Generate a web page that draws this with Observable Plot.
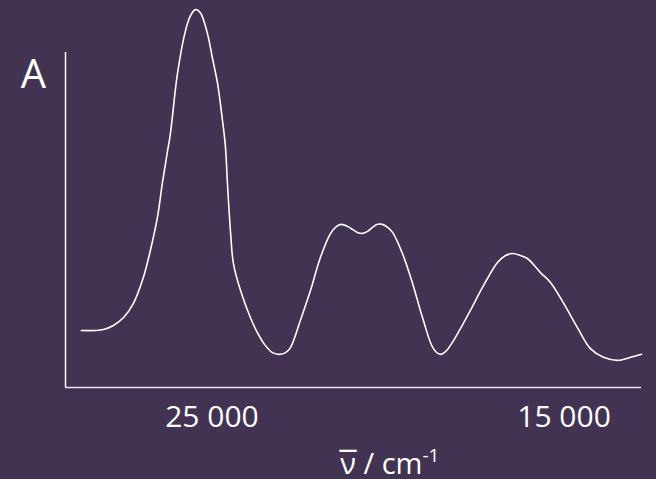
<!DOCTYPE html>
<html>
<head>
<meta charset="utf-8">
<script src="https://cdn.jsdelivr.net/npm/d3@7"></script>
<script src="https://cdn.jsdelivr.net/npm/@observablehq/plot@0.6"></script>
<style>
  html, body { margin: 0; padding: 0; background: #433353; }
  svg { display: block; }
</style>
</head>
<body>
<div id="chart"></div>
<script>
// Wavenumber (cm^-1) and absorbance (arbitrary units)
const wavenumber = [28710, 28310, 28080, 27800, 27510, 27230, 26950, 26750, 26550, 26410,
  26260, 26180, 25980, 25750, 25610, 25470, 25330, 25130, 24990, 24840,
  24730, 24620, 24560, 24470, 24390, 24190, 23910, 23710, 23480, 23280,
  23080, 22910, 22770, 22490, 22200, 21920, 21630, 21460, 21320, 21150,
  21010, 20870, 20720, 20580, 20440, 20300, 20160, 20010, 19870, 19590,
  19300, 19020, 18710, 18510, 18340, 18140, 17910, 17660, 17290, 16890,
  16660, 16460, 16240, 16040, 15670, 15380, 15010, 14620, 14250, 13880,
  13480, 13110, 12800];
const absorbance = [0.170, 0.170, 0.173, 0.185, 0.209, 0.251, 0.328, 0.409, 0.507, 0.609,
  0.707, 0.758, 0.937, 1.066, 1.110, 1.128, 1.119, 1.057, 0.985, 0.907,
  0.821, 0.722, 0.609, 0.460, 0.370, 0.290, 0.209, 0.164, 0.125, 0.104,
  0.099, 0.104, 0.119, 0.200, 0.290, 0.388, 0.460, 0.481, 0.487, 0.481,
  0.472, 0.463, 0.460, 0.466, 0.478, 0.487, 0.487, 0.478, 0.463, 0.400,
  0.310, 0.209, 0.116, 0.099, 0.110, 0.140, 0.182, 0.230, 0.304, 0.373,
  0.394, 0.400, 0.394, 0.385, 0.343, 0.313, 0.251, 0.179, 0.116, 0.090,
  0.081, 0.090, 0.099];
const tickValues = [25000, 15000];
const tickLabels = ["25 000", "15 000"];
const xDomain = [29160, 12800];
const yDomain = [0, 1.1552];
const yAxisTop = 1.0;
const yLabel = "A";
const xLabelSymbol = "ν";
const xLabelBar = "¯";
const xLabelUnit = " / cm";
const xLabelExp = "-1";

const data = wavenumber.map((w, i) => ({w, a: absorbance[i]}));
const fg = "#ffffff";
const font = "'Open Sans', 'Noto Sans', sans-serif";
const titleText = xLabelSymbol + xLabelUnit + xLabelExp;

const chart = Plot.plot({
  width: 656,
  height: 479,
  marginLeft: 65,
  marginRight: 15,
  marginTop: 0,
  marginBottom: 92,
  x: {domain: xDomain, axis: null},
  y: {domain: yDomain, axis: null},
  style: {background: "#433353", color: fg, fontFamily: font},
  marks: [
    Plot.ruleX([xDomain[0]], {y1: 0, y2: yAxisTop, stroke: fg, strokeWidth: 1.5}),
    Plot.ruleY([0], {x1: xDomain[0], x2: xDomain[1], stroke: "#e8e6ec", strokeWidth: 1.5}),
    Plot.line(data, {x: "w", y: "a", curve: "catmull-rom", stroke: fg, strokeWidth: 1.6}),
    Plot.axisX({ticks: tickValues, tickFormat: (d) => tickLabels[tickValues.indexOf(d)],
      tickSize: 0, tickPadding: 18, fontSize: 30, fill: fg, label: null}),
    Plot.text([yLabel], {frameAnchor: "top-left", dx: -32, dy: 87, lineAnchor: "bottom",
      textAnchor: "middle", fontSize: 40, fill: fg}),
    Plot.text([titleText], {frameAnchor: "bottom", dx: 36, dy: 86,
      lineAnchor: "bottom", textAnchor: "middle", fontSize: 29, fill: fg})
  ]
});
document.getElementById("chart").appendChild(chart);

// Rich formatting of the x-axis title: bar over ν and superscript exponent
d3.select(chart).selectAll("text").each(function() {
  if (this.textContent === titleText) {
    const t = d3.select(this);
    t.text(null);
    const nuT = t.append("tspan").text(xLabelSymbol);
    const barT = t.append("tspan").text(xLabelBar).attr("font-size", 34);
    const unitT = t.append("tspan").text(xLabelUnit);
    t.append("tspan").text(xLabelExp).attr("font-size", 19).attr("dy", -12);
    const wNu = nuT.node().getComputedTextLength();
    const wBar = barT.node().getComputedTextLength();
    barT.attr("dx", -(wNu + wBar) / 2).attr("dy", 4);
    unitT.attr("dx", (wNu - wBar) / 2).attr("dy", -4);
  }
});
</script>
</body>
</html>
